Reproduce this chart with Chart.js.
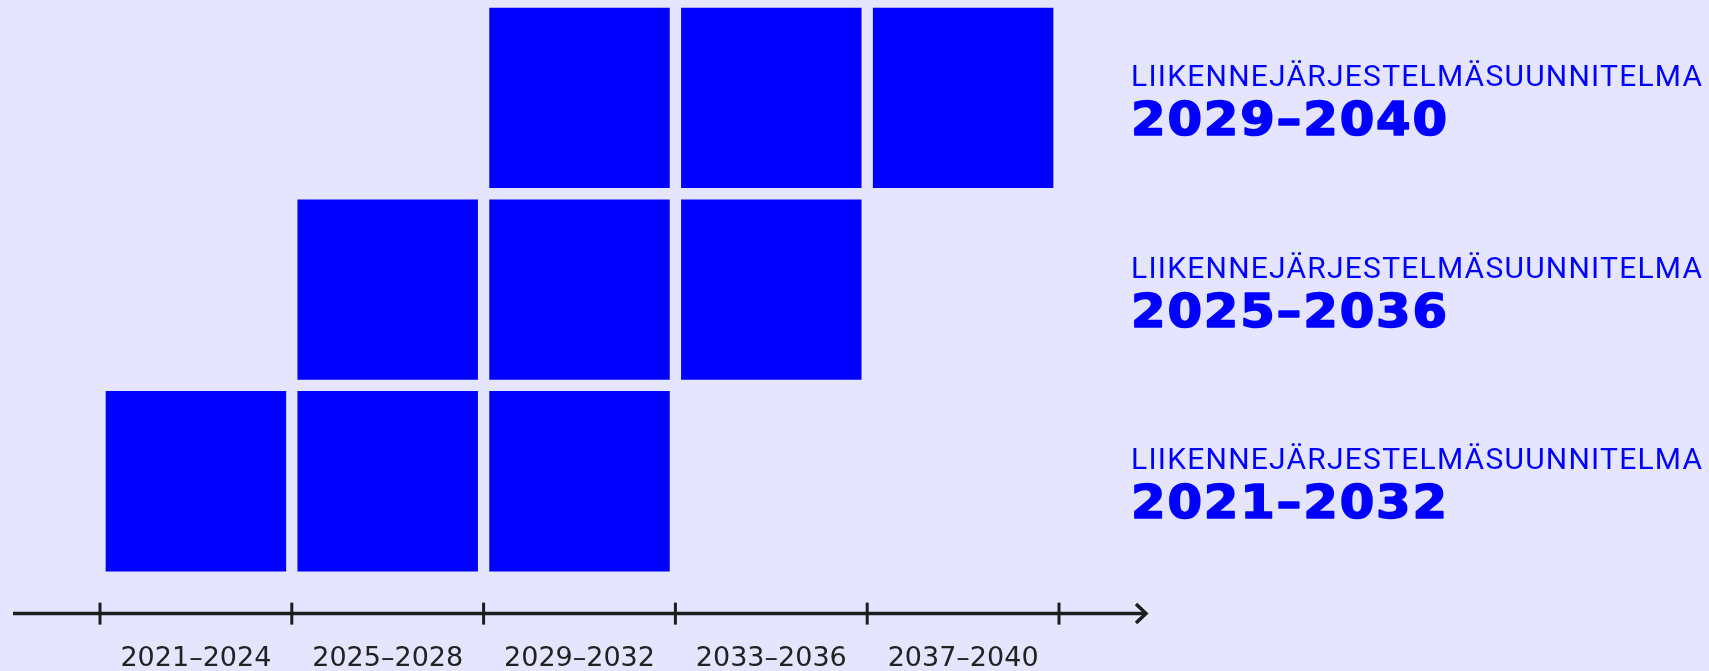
<!DOCTYPE html>
<html>
<head>
<meta charset="utf-8">
<script src="https://cdn.jsdelivr.net/npm/chart.js@4.4.1/dist/chart.umd.min.js"></script>
<style>
  html, body { margin: 0; padding: 0; background: #E5E5FF; }
  #wrap { width: 1709px; height: 671px; position: relative; }
</style>
</head>
<body>
<div id="wrap"><canvas id="c"></canvas></div>
<script>
// ---- data ----
const periods = ['2021–2024', '2025–2028', '2029–2032', '2033–2036', '2037–2040'];
const planTitle = 'LIIKENNEJÄRJESTELMÄSUUNNITELMA';
const planYears = ['2021–2032', '2025–2036', '2029–2040'];
// floating bar spans (row index range) for each plan, per period
const plan2021 = [[0, 1], [0, 1], [0, 1], null, null];
const plan2025 = [null, [1, 2], [1, 2], [1, 2], null];
const plan2029 = [null, null, [2, 3], [2, 3], [2, 3]];

const BG = '#E5E5FF';
const BLUE = '#0000FF';
const DARK = '#1E1E1E';

function ds(label, data) {
  return {
    label, data,
    backgroundColor: BLUE,
    borderColor: BG,
    borderWidth: 6,
    borderSkipped: false,
    grouped: false,
    barPercentage: 1,
    categoryPercentage: 1
  };
}

const decor = {
  id: 'decor',
  afterDraw(chart) {
    const ctx = chart.ctx;
    const ca = chart.chartArea;
    const xs = chart.scales.x, ys = chart.scales.y;
    const y0 = ca.bottom;
    const cw = (ca.right - ca.left) / periods.length;
    ctx.save();
    ctx.strokeStyle = DARK;
    ctx.lineWidth = 3.5;
    ctx.lineCap = 'butt';
    // axis line
    ctx.beginPath();
    ctx.moveTo(ca.left - 87, y0);
    ctx.lineTo(ca.right + 87, y0);
    ctx.stroke();
    // arrow head
    ctx.lineJoin = 'miter';
    ctx.beginPath();
    ctx.moveTo(ca.right + 77, y0 - 9.5);
    ctx.lineTo(ca.right + 87, y0);
    ctx.lineTo(ca.right + 77, y0 + 9.5);
    ctx.stroke();
    // ticks at period boundaries
    ctx.lineWidth = 3;
    for (let i = 0; i <= periods.length; i++) {
      const px = i < periods.length ? xs.getPixelForValue(i) - cw / 2 : xs.getPixelForValue(i - 1) + cw / 2;
      ctx.beginPath();
      ctx.moveTo(px, y0 - 11);
      ctx.lineTo(px, y0 + 11);
      ctx.stroke();
    }
    // right labels
    const tx = ca.right + 72;
    for (let r = 0; r < planYears.length; r++) {
      const cy = ys.getPixelForValue(r + 0.5);
      ctx.fillStyle = BLUE;
      ctx.strokeStyle = BLUE;
      ctx.textAlign = 'left';
      ctx.textBaseline = 'alphabetic';
      ctx.font = '400 30px Roboto';
      ctx.letterSpacing = '0px';
      let w = ctx.measureText(planTitle).width;
      ctx.letterSpacing = ((571 - w) / (planTitle.length - 1)).toFixed(2) + 'px';
      ctx.fillText(planTitle, tx, cy - 12);
      // bold years, slightly widened
      ctx.font = 'bold 46px "DejaVu Sans"';
      ctx.letterSpacing = '0px';
      const sx = 1.08;
      w = ctx.measureText(planYears[r]).width * sx;
      ctx.save();
      ctx.translate(tx, cy + 37);
      ctx.scale(sx, 1);
      ctx.letterSpacing = (((316 - w) / (planYears[r].length - 1)) / sx).toFixed(2) + 'px';
      ctx.lineWidth = 1.6;
      ctx.lineJoin = 'round';
      ctx.strokeText(planYears[r], 0, 0);
      ctx.fillText(planYears[r], 0, 0);
      ctx.restore();
    }
    ctx.letterSpacing = '0px';
    ctx.restore();
  }
};

new Chart(document.getElementById('c'), {
  type: 'bar',
  data: {
    labels: periods,
    datasets: [ds(planYears[0], plan2021), ds(planYears[1], plan2025), ds(planYears[2], plan2029)]
  },
  options: {
    responsive: true,
    maintainAspectRatio: false,
    animation: false,
    layout: { padding: { left: 100, right: 650, top: 2, bottom: -33 } },
    plugins: { legend: { display: false }, tooltip: { enabled: false } },
    scales: {
      x: {
        offset: true,
        grid: { display: false, drawTicks: false },
        border: { display: false },
        ticks: {
          color: '#222222',
          font: { family: '"DejaVu Sans"', size: 27 },
          padding: 29,
          maxRotation: 0,
          autoSkip: false
        }
      },
      y: {
        display: false,
        min: -0.19,
        max: 3
      }
    }
  },
  plugins: [decor]
});
</script>
</body>
</html>
